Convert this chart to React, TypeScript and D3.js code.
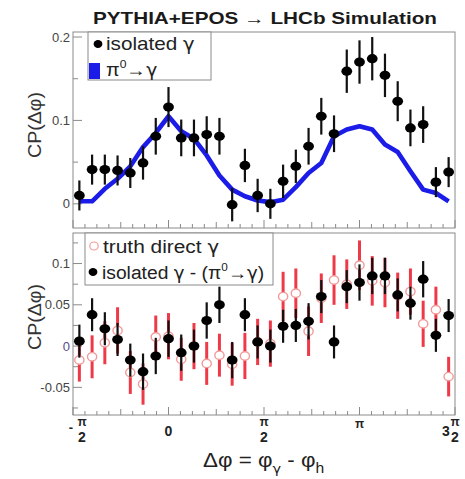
import React from "react";
import * as d3 from "d3";

const PI = Math.PI;
const NBINS = 30;
// Δφ bin centres over [-π/2, 3π/2]
const binCenters = d3.range(NBINS).map((i) => -PI / 2 + (i + 0.5) * ((2 * PI) / NBINS));

// Upper pad: isolated γ correlation and π0→γ expectation
const isoGamma = [
  0.010, 0.041, 0.041, 0.040, 0.037, 0.049, 0.081, 0.116, 0.079, 0.079,
  0.083, 0.081, -0.001, 0.046, 0.010, 0.000, 0.027, 0.045, 0.069, 0.105,
  0.084, 0.159, 0.170, 0.174, 0.154, 0.123, 0.091, 0.095, 0.026, 0.038,
];
const isoGammaErr = [
  0.018, 0.018, 0.018, 0.018, 0.018, 0.020, 0.022, 0.024, 0.022, 0.022,
  0.022, 0.022, 0.020, 0.020, 0.020, 0.018, 0.020, 0.020, 0.022, 0.022,
  0.022, 0.026, 0.026, 0.026, 0.026, 0.024, 0.022, 0.022, 0.018, 0.018,
];
const pi0Gamma = [
  0.003, 0.003, 0.018, 0.030, 0.045, 0.068, 0.085, 0.105, 0.087, 0.078,
  0.058, 0.034, 0.017, 0.009, 0.004, 0.002, 0.005, 0.020, 0.037, 0.049,
  0.081, 0.089, 0.093, 0.089, 0.071, 0.062, 0.039, 0.017, 0.013, 0.003,
];

// Lower pad: truth direct γ and isolated γ minus π0→γ
const truthDirect = [
  -0.017, -0.013, 0.004, 0.019, -0.032, -0.046, 0.011, 0.012, -0.016, 0.000,
  -0.021, -0.011, -0.022, -0.012, 0.005, 0.003, 0.060, 0.064, 0.018, 0.058,
  0.080, 0.075, 0.098, 0.079, 0.077, 0.061, 0.066, 0.027, 0.044, -0.037,
];
const truthDirectErr = [
  0.026, 0.026, 0.026, 0.028, 0.026, 0.025, 0.026, 0.028, 0.026, 0.028,
  0.026, 0.026, 0.026, 0.028, 0.028, 0.028, 0.030, 0.030, 0.030, 0.030,
  0.030, 0.030, 0.030, 0.030, 0.030, 0.028, 0.028, 0.028, 0.028, 0.024,
];
const isoMinusPi0 = [
  0.006, 0.038, 0.021, 0.008, -0.017, -0.031, -0.012, 0.009, -0.008, 0.000,
  0.031, 0.050, -0.017, 0.038, 0.005, 0.000, 0.024, 0.025, 0.030, 0.060,
  0.005, 0.072, 0.077, 0.085, 0.085, 0.062, 0.052, 0.081, 0.013, 0.037,
];
const isoMinusPi0Err = [
  0.020, 0.020, 0.020, 0.020, 0.020, 0.022, 0.022, 0.022, 0.022, 0.020,
  0.022, 0.022, 0.022, 0.020, 0.020, 0.020, 0.020, 0.020, 0.022, 0.020,
  0.020, 0.020, 0.022, 0.022, 0.022, 0.020, 0.020, 0.022, 0.020, 0.020,
];

const topYTicks = [0, 0.1, 0.2];
const topYTickLabels = ["0", "0.1", "0.2"];
const bottomYTicks = [-0.05, 0, 0.05, 0.1];
const bottomYTickLabels = ["-0.05", "0", "0.05", "0.1"];

const W = 465;
const H = 479;
const FONT = "'Liberation Sans', Arial, Helvetica, sans-serif";
const GREEK = "'DejaVu Sans', 'Liberation Sans', sans-serif";
const BLUE = "#1c1ce8";
const RED = "#ee3a48";
const PINK = "#f29a9a";
const FRAME = "#8a8a8a";

const x = d3.scaleLinear().domain([-PI / 2, (3 * PI) / 2]).range([73, 455]);
const yTop = d3.scaleLinear().domain([-0.029, 0.206]).range([228, 32]);
const yBot = d3.scaleLinear().domain([-0.0835, 0.137]).range([415, 233]);

const minorX = d3.range(0, 33).map((k) => -PI / 2 + (k * PI) / 16);

function FrameTicks({
  yScale,
  yMajor,
  yMinor,
}: {
  yScale: d3.ScaleLinear<number, number>;
  yMajor: number[];
  yMinor: number[];
}) {
  const [y0, y1] = yScale.range();
  const bottom = y0;
  return (
    <g stroke={FRAME} strokeWidth={1}>
      <rect x={x.range()[0]} y={y1} width={x.range()[1] - x.range()[0]} height={y0 - y1} fill="none" />
      {minorX.map((v, k) => {
        const len = k % 8 === 0 ? 8 : k % 4 === 0 ? 6 : 4;
        return <line key={"x" + k} x1={x(v)} x2={x(v)} y1={bottom} y2={bottom - len} />;
      })}
      {yMajor.map((v, k) => (
        <line key={"ym" + k} x1={x.range()[0]} x2={x.range()[0] + 9} y1={yScale(v)} y2={yScale(v)} />
      ))}
      {yMinor.map((v, k) => (
        <line key={"yn" + k} x1={x.range()[0]} x2={x.range()[0] + 5} y1={yScale(v)} y2={yScale(v)} />
      ))}
    </g>
  );
}

function Points({
  vals,
  errs,
  yScale,
  color,
  barWidth,
  hollow,
}: {
  vals: number[];
  errs: number[];
  yScale: d3.ScaleLinear<number, number>;
  color: string;
  barWidth: number;
  hollow?: boolean;
}) {
  return (
    <g>
      {vals.map((v, i) => (
        <line
          key={"e" + i}
          x1={x(binCenters[i])}
          x2={x(binCenters[i])}
          y1={yScale(v - errs[i])}
          y2={yScale(v + errs[i])}
          stroke={color}
          strokeWidth={barWidth}
        />
      ))}
      {vals.map((v, i) =>
        hollow ? (
          <ellipse key={"m" + i} cx={x(binCenters[i])} cy={yScale(v)} rx={4.6} ry={4.2} fill="#fff" stroke={PINK} strokeWidth={1.4} />
        ) : (
          <ellipse key={"m" + i} cx={x(binCenters[i])} cy={yScale(v)} rx={5.4} ry={4.6} fill="#000" />
        )
      )}
    </g>
  );
}

export default function App() {
  const pi0Line = d3
    .line<number>()
    .x((_, i) => x(binCenters[i]))
    .y((d) => yTop(d));

  const tickFont = { fontFamily: FONT, fontSize: 13, fill: "#444" };
  const xLabFont = { fontFamily: FONT, fontWeight: 700 as const, fill: "#222" };

  return (
    <svg width={W} height={H} style={{ position: "absolute", left: 0, top: 0, background: "#fff" }}>
      <rect x={0} y={0} width={W} height={H} fill="#fff" />

      {/* title */}
      <text x={265} y={24} textAnchor="middle" fontFamily={FONT} fontWeight={700} fontSize={16.5}
        textLength={344} lengthAdjust="spacingAndGlyphs" fill="#1a1a1a">
        PYTHIA+EPOS → LHCb Simulation
      </text>

      {/* upper pad */}
      <FrameTicks yScale={yTop} yMajor={topYTicks} yMinor={[0.05, 0.15]} />
      {topYTicks.map((v, k) => (
        <text key={k} x={70} y={yTop(v) + 4.5} textAnchor="end" {...tickFont}>
          {topYTickLabels[k]}
        </text>
      ))}
      <path d={pi0Line(pi0Gamma) || ""} fill="none" stroke={BLUE} strokeWidth={4.6} strokeLinejoin="round" strokeLinecap="butt" />
      <Points vals={isoGamma} errs={isoGammaErr} yScale={yTop} color="#111" barWidth={2.2} />

      {/* upper legend */}
      <rect x={88} y={32} width={123} height={48} fill="#fff" stroke={FRAME} strokeWidth={1} />
      <ellipse cx={98} cy={44} rx={4.4} ry={4} fill="#000" />
      <g transform="translate(106,50) scale(1.15,1)">
        <text x={0} y={0} fontFamily={FONT} fontSize={18} fill="#222">
          isolated <tspan fontFamily={GREEK} fontSize={17}>γ</tspan>
        </text>
      </g>
      <rect x={89} y={63} width={11} height={16} fill={BLUE} />
      <g transform="translate(106,76) scale(1.1,1)">
        <text x={0} y={0} fontFamily={FONT} fontSize={18} fill="#222">
          π<tspan fontSize={11} dy={-8}>0</tspan><tspan dy={8}>→</tspan><tspan fontFamily={GREEK} fontSize={17}>γ</tspan>
        </text>
      </g>

      <text transform={`translate(41,125) rotate(-90)`} textAnchor="middle" fontFamily={FONT} fontSize={19} fill="#333"
        textLength={66} lengthAdjust="spacingAndGlyphs">
        CP(Δφ)
      </text>

      {/* lower pad */}
      <FrameTicks yScale={yBot} yMajor={bottomYTicks} yMinor={[-0.075, -0.025, 0.025, 0.075, 0.125]} />
      {bottomYTicks.map((v, k) => (
        <text key={k} x={70} y={yBot(v) + 4.5} textAnchor="end" {...tickFont} fill={v === 0 ? "#5a4a8a" : "#444"}>
          {bottomYTickLabels[k]}
        </text>
      ))}
      <Points vals={truthDirect} errs={truthDirectErr} yScale={yBot} color={RED} barWidth={3} hollow />
      <Points vals={isoMinusPi0} errs={isoMinusPi0Err} yScale={yBot} color="#111" barWidth={2.2} />

      {/* lower legend */}
      <rect x={85} y={233} width={188} height={52} fill="#fff" stroke={FRAME} strokeWidth={1} />
      <ellipse cx={94} cy={246} rx={4.2} ry={4} fill="#fff" stroke={PINK} strokeWidth={1.2} />
      <g transform="translate(103,253) scale(1.16,1)">
        <text x={0} y={0} fontFamily={FONT} fontSize={18} fill="#222">
          truth direct <tspan fontFamily={GREEK} fontSize={17}>γ</tspan>
        </text>
      </g>
      <ellipse cx={93} cy={272} rx={4.4} ry={4} fill="#000" />
      <g transform="translate(102,279) scale(1.07,1)">
        <text x={0} y={0} fontFamily={FONT} fontSize={18} fill="#222">
          isolated <tspan fontFamily={GREEK} fontSize={17}>γ</tspan> - (π<tspan fontSize={11} dy={-8}>0</tspan><tspan dy={8}>→</tspan><tspan fontFamily={GREEK} fontSize={17}>γ</tspan>)
        </text>
      </g>

      <text transform={`translate(41,317) rotate(-90)`} textAnchor="middle" fontFamily={FONT} fontSize={19} fill="#333"
        textLength={66} lengthAdjust="spacingAndGlyphs">
        CP(Δφ)
      </text>

      {/* x tick labels */}
      <text x={x(-PI / 2) - 2} y={432} textAnchor="middle" {...xLabFont} fontSize={13}>-</text>
      <text x={x(-PI / 2) + 9} y={426} textAnchor="middle" {...xLabFont} fontSize={12}>π</text>
      <text x={x(-PI / 2) + 9} y={442} textAnchor="middle" {...xLabFont} fontSize={14}>2</text>
      <text x={x(0)} y={436} textAnchor="middle" {...xLabFont} fontSize={14}>0</text>
      <text x={x(PI / 2)} y={426} textAnchor="middle" {...xLabFont} fontSize={12}>π</text>
      <text x={x(PI / 2)} y={442} textAnchor="middle" {...xLabFont} fontSize={14}>2</text>
      <text x={x(PI)} y={428} textAnchor="middle" {...xLabFont} fontSize={12}>π</text>
      <text x={x((3 * PI) / 2) - 9} y={436} textAnchor="middle" {...xLabFont} fontSize={14}>3</text>
      <text x={x((3 * PI) / 2)} y={426} textAnchor="middle" {...xLabFont} fontSize={12}>π</text>
      <text x={x((3 * PI) / 2)} y={442} textAnchor="middle" {...xLabFont} fontSize={14}>2</text>

      {/* x axis title */}
      <g transform="translate(203,467) scale(1.12,1)">
        <text x={0} y={0} fontFamily={FONT} fontSize={20} fill="#222">
          Δφ = φ<tspan fontFamily={GREEK} fontSize={13} dy={6}>γ</tspan><tspan dy={-6}> - φ</tspan><tspan fontSize={14} dy={6}>h</tspan>
        </text>
      </g>
    </svg>
  );
}
